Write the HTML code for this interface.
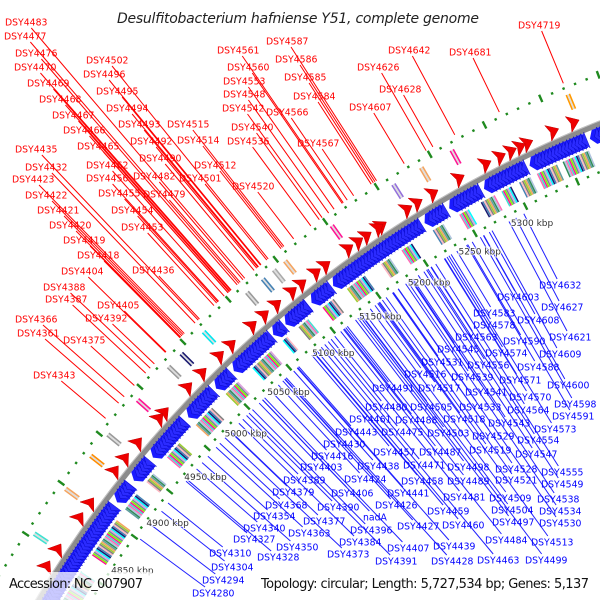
<!DOCTYPE html>
<html><head><meta charset="utf-8"><title>Desulfitobacterium hafniense Y51 genome map</title>
<style>html,body{margin:0;padding:0;background:#fff;width:600px;height:600px;overflow:hidden;}svg{display:block;overflow:hidden;}</style></head>
<body>
<svg id="map" width="600" height="600" viewBox="0 0 600 600" xmlns="http://www.w3.org/2000/svg">
<rect x="0" y="0" width="600" height="600" fill="#fff"/>
<g id="rings"></g>
<g id="leaders"></g>
<g id="labels"></g>
<g id="ticks"></g>
<text x="298" y="23" text-anchor="middle" font-family="DejaVu Sans, Liberation Sans, sans-serif" font-style="italic" font-size="14" fill="#222" textLength="362">Desulfitobacterium hafniense Y51, complete genome</text>
<rect x="0" y="572" width="152" height="28" fill="#fff" fill-opacity="0.75"/>
<text x="9" y="588" font-family="DejaVu Sans, Liberation Sans, sans-serif" font-size="13" fill="#111" textLength="134">Accession: NC_007907</text>
<text x="261" y="588" font-family="DejaVu Sans, Liberation Sans, sans-serif" font-size="13" fill="#111" textLength="328">Topology: circular; Length: 5,727,534 bp; Genes: 5,137</text>
</svg>
<script>
// ---- data (kbp positions) ----
const genomeKbp = 5727.534;
const tickKbp = [4850, 4900, 4950, 5000, 5050, 5100, 5150, 5200, 5250, 5300];
const minusBlockStart = [4780, 4888, 4910, 4934, 4977, 5009, 5029, 5072, 5085, 5112, 5134, 5223, 5246, 5278, 5319, 5372];
const minusBlockEnd   = [4884, 4906, 4930, 4973, 5005, 5026, 5069, 5082, 5109, 5131, 5220, 5242, 5274, 5315, 5368, 5460];
const plusGeneKbp = [5364.8, 5347.3, 5325.0, 5318.6, 5310.7, 5301.1, 5288.4, 5264.5, 5240.7, 5226.3, 5216.8, 5192.9, 5189.7, 5178.6, 5170.6, 5161.1, 5138.8, 5129.3, 5115.0, 5105.4, 5089.5, 5076.8, 5064.1, 5041.8, 5029.1, 5010.0, 4994.0, 4967.0, 4960.6, 4935.2, 4919.3, 4906.5, 4874.7, 4860.4, 4830.2, 4814.3];
const outerFeatKbp = [5368, 5269, 5242, 5217, 5160, 5115, 5104, 5093, 5077, 5032, 5008, 4994, 4959, 4924, 4903, 4871, 4829];
const outerFeatColor = ['#ff9900', '#ff1493', '#f4a460', '#9370db', '#ff1493', '#f4a460', '#aaaaaa', '#4682b4', '#999999', '#00e5ee', '#191970', '#999999', '#ff1493', '#999999', '#ff8c00', '#f4a460', '#40e0d0'];
const innerClusterStart = [4790, 4842, 4888, 4916, 4942, 4977, 5012, 5042, 5075, 5092, 5117, 5142, 5176, 5196, 5226, 5251, 5271, 5290, 5306, 5322, 5345, 5385];
const innerClusterEnd   = [4826, 4876, 4903, 4924, 4957, 4996, 5026, 5062, 5080, 5102, 5128, 5160, 5184, 5206, 5236, 5259, 5283, 5298, 5316, 5340, 5368, 5420];
const palette = ['#00ffff', '#5f9ea0', '#778899', '#9acd32', '#ff1493', '#ffb6c1', '#ff69b4', '#191970', '#2e8b57', '#dda0dd', '#f4a460', '#7cfc00', '#808080', '#40e0d0', '#4682b4', '#b0c4de'];

const redNames = ['DSY4483','DSY4477','DSY4476','DSY4470','DSY4469','DSY4468','DSY4467','DSY4466','DSY4465','DSY4435','DSY4432','DSY4423','DSY4422','DSY4421','DSY4420','DSY4419','DSY4418','DSY4404','DSY4388','DSY4387','DSY4366','DSY4361','DSY4343','DSY4502','DSY4496','DSY4495','DSY4494','DSY4493','DSY4492','DSY4490','DSY4462','DSY4456','DSY4455','DSY4454','DSY4453','DSY4436','DSY4405','DSY4392','DSY4375','DSY4482','DSY4479','DSY4515','DSY4514','DSY4512','DSY4501','DSY4520','DSY4561','DSY4560','DSY4553','DSY4548','DSY4542','DSY4540','DSY4536','DSY4587','DSY4586','DSY4585','DSY4584','DSY4566','DSY4567','DSY4607','DSY4626','DSY4642','DSY4628','DSY4681','DSY4719'];
const redX = [5,4,15,14,27,39,52,63,77,15,25,12,25,37,49,63,77,61,43,45,15,17,33,86,83,96,106,118,130,139,86,86,98,111,121,132,97,85,63,133,143,167,177,194,179,232,217,227,223,223,222,231,227,266,275,284,293,266,297,349,357,388,379,449,518];
const redY = [22,36,53,67,83,99,115,130,146,149,167,179,195,210,225,240,255,271,287,299,319,333,375,60,74,91,108,124,141,158,165,178,193,210,227,270,305,318,340,176,194,124,140,165,178,186,50,67,81,94,108,127,141,41,59,77,96,112,143,107,67,50,89,52,25];

const blueNames = ['DSY4632','DSY4603','DSY4627','DSY4583','DSY4608','DSY4578','DSY4563','DSY4590','DSY4621','DSY4545','DSY4574','DSY4609','DSY4531','DSY4556','DSY4588','DSY4516','DSY4539','DSY4571','DSY4600','DSY4491','DSY4517','DSY4541','DSY4570','DSY4598','DSY4480','DSY4505','DSY4533','DSY4564','DSY4591','DSY4461','DSY4488','DSY4518','DSY4543','DSY4573','DSY4443','DSY4475','DSY4503','DSY4529','DSY4554','DSY4430','DSY4519','DSY4547','DSY4416','DSY4457','DSY4487','DSY4403','DSY4438','DSY4471','DSY4498','DSY4528','DSY4555','DSY4521','DSY4549','DSY4424','DSY4458','DSY4489','DSY4406','DSY4441','DSY4481','DSY4509','DSY4538','DSY4390','DSY4426','DSY4459','DSY4504','DSY4534','nadA','DSY4377','DSY4427','DSY4460','DSY4497','DSY4530','DSY4396','DSY4384','DSY4407','DSY4439','DSY4484','DSY4513','DSY4373','DSY4391','DSY4428','DSY4463','DSY4499','DSY4363','DSY4350','DSY4389','DSY4379','DSY4368','DSY4354','DSY4340','DSY4327','DSY4328','DSY4310','DSY4304','DSY4294','DSY4280'];
const blueX = [539,497,541,473,517,473,455,503,549,437,485,539,421,467,517,404,451,499,547,372,418,465,509,554,365,410,459,507,552,349,395,443,488,534,335,381,427,472,517,323,469,515,311,373,419,300,357,403,447,495,541,495,541,344,401,447,331,387,443,489,537,317,375,427,491,539,363,303,397,442,492,539,350,339,387,433,485,531,327,375,431,477,525,288,276,283,272,265,253,243,233,257,209,211,202,192];
const blueY = [285,297,307,313,320,325,337,341,337,349,353,354,362,365,367,374,377,380,385,388,388,392,397,404,407,407,407,410,416,419,420,419,423,429,432,432,433,436,440,444,450,454,456,452,452,467,466,465,467,469,472,480,484,479,481,481,493,493,497,498,499,507,505,511,510,511,517,521,526,525,522,523,530,542,548,546,540,542,554,561,561,560,560,533,547,480,492,505,516,528,539,557,553,567,580,593];

// ---- geometry ----
const SVGNS = 'http://www.w3.org/2000/svg';
const CX = 1022, CY = 1190, R0 = 1147;
function ang(k) { return k / genomeKbp * 2 * Math.PI; }
function pt(k, r) { const a = ang(k); return [CX + r * Math.sin(a), CY - r * Math.cos(a)]; }
function mk(tag, attrs, parent) { const e = document.createElementNS(SVGNS, tag); for (const k in attrs) e.setAttribute(k, attrs[k]); parent.appendChild(e); return e; }
function poly(points) { return points.map(p => p[0].toFixed(2) + ',' + p[1].toFixed(2)).join(' '); }
function visible(k) { const p = pt(k, R0); return p[0] > -40 && p[0] < 640 && p[1] > -40 && p[1] < 640; }

const rings = document.getElementById('rings');

// backbone
{
  const a = pt(4740, R0), b = pt(5480, R0);
  const e = mk('path', { d: `M${a[0]},${a[1]} A${R0},${R0} 0 0 1 ${b[0]},${b[1]}`, fill: 'none', stroke: '#8c8c8c', 'stroke-width': 6 }, rings);
  
  
  const a2 = pt(4740, R0 + 2.5), b2 = pt(5480, R0 + 2.5);
  const e2 = mk('path', { d: `M${a2[0]},${a2[1]} A${R0+2.5},${R0+2.5} 0 0 1 ${b2[0]},${b2[1]}`, fill: 'none', stroke: '#c4c4c4', 'stroke-width': 1 }, rings);
  
  
}

// green dot rings (inner and outer)
function dotRing(r, name) {
  const g = mk('g', {}, rings);
  
  
  let i = 0;
  for (let k = 4760; k < 5480; k += 9.5, i++) {
    if (!visible(k)) continue;
    const long = (i % 5 === 2);
    const p1 = pt(k, r - (long ? 4 : 1.2)), p2 = pt(k, r + (long ? 4 : 1.2));
    mk('line', { x1: p1[0], y1: p1[1], x2: p2[0], y2: p2[1], stroke: '#1f8a1f', 'stroke-width': 2.4 }, g);
  }
}
dotRing(1102, 'inner-dot-ring');
dotRing(1193, 'outer-dot-ring');

// inner coloured feature bars
{
  const g = mk('g', {}, rings);
  
  
  let ci = 0;
  for (let i = 0; i < innerClusterStart.length; i++) {
    for (let k = innerClusterStart[i]; k <= innerClusterEnd[i]; k += 1.3, ci++) {
      if (!visible(k)) continue;
      const p1 = pt(k, 1109), p2 = pt(k, 1126);
      mk('line', { x1: p1[0], y1: p1[1], x2: p2[0], y2: p2[1], stroke: palette[(ci * 7) % palette.length], 'stroke-width': 1.5 }, g);
    }
  }
}

// outer coloured feature bars
{
  const g = mk('g', {}, rings);
  
  
  for (let i = 0; i < outerFeatKbp.length; i++) {
    for (let j = 0; j < 3; j++) {
      const k = outerFeatKbp[i] + j * 1.3;
      const p1 = pt(k, 1170), p2 = pt(k, 1186);
      const e = mk('line', { x1: p1[0], y1: p1[1], x2: p2[0], y2: p2[1], stroke: j === 1 ? '#dddddd' : outerFeatColor[i], 'stroke-width': 1.6 }, g);
      
      
    }
  }
}

// minus strand blue gene blocks
{
  const g = mk('g', {}, rings);
  
  
  for (let i = 0; i < minusBlockStart.length; i++) {
    const s = minusBlockStart[i], e = minusBlockEnd[i];
    const pts = [];
    for (let k = s + 4; k <= e; k += 1) pts.push(pt(k, 1144));
    pts.push(pt(e, 1144)); pts.push(pt(e, 1129));
    for (let k = e; k >= s + 4; k -= 1) pts.push(pt(k, 1129));
    pts.push(pt(s, 1136.5));
    const b = mk('polygon', { points: poly(pts), fill: '#1a1aff' }, g);
    
    
    for (let k = s + 4; k < e - 2; k += 3) {
      const t = mk('polygon', { points: poly([pt(k, 1136.5), pt(k + 4.5, 1128), pt(k + 4.5, 1145)]), fill: '#2b2bff', stroke: '#0000b8', 'stroke-width': 0.4 }, g);
      
      
    }
  }
}

// plus strand red genes
{
  const g = mk('g', {}, rings);
  
  
  for (let i = 0; i < plusGeneKbp.length; i++) {
    const k = plusGeneKbp[i];
    const t = mk('polygon', { points: poly([pt(k + 5, 1158), pt(k - 4, 1149.5), pt(k - 2, 1158), pt(k - 4, 1166.5)]), fill: '#ee0000', stroke: '#c00000', 'stroke-width': 0.5 }, g);
    
    
  }
}

// tick labels
{
  const g = document.getElementById('ticks');
  for (let i = 0; i < tickKbp.length; i++) {
    const p = pt(tickKbp[i], 1084);
    const t = mk('text', { x: p[0], y: p[1] + 3, 'text-anchor': 'middle', 'font-family': 'DejaVu Sans, Liberation Sans, sans-serif', 'font-size': 9, fill: '#333', stroke: '#fff', 'stroke-width': 2, 'stroke-opacity': 0.8, 'paint-order': 'stroke' }, g);
    t.textContent = tickKbp[i] + ' kbp';
    
    
  }
}

// gene labels and leader lines
function labels(names, xs, ys, color, lineColor, targetR, outward) {
  const lg = document.getElementById('leaders'), tg = document.getElementById('labels');
  for (let i = 0; i < names.length; i++) {
    const w = names[i].length * 6.05, h = 10;
    const cx = xs[i] + w / 2, cy = ys[i];
    let dx = CX - cx, dy = CY - cy;
    const d0 = Math.hypot(dx, dy);
    dx /= d0; dy /= d0;
    let len;
    if (outward) { dx = -dx; dy = -dy; len = targetR - d0; } else { len = d0 - targetR; }
    const tb = Math.min((w / 2 + 1) / Math.abs(dx || 1e-6), (h / 2 + 1) / Math.abs(dy || 1e-6));
    if (len > tb) {
      const l = mk('line', { x1: cx + dx * tb, y1: cy + dy * tb, x2: cx + dx * len, y2: cy + dy * len, stroke: lineColor, 'stroke-width': 1 }, lg);
      
      
    }
    const t = mk('text', { x: xs[i], y: ys[i] + 3.4, 'font-family': 'DejaVu Sans, Liberation Sans, sans-serif', 'font-size': 9.3, fill: color }, tg);
    t.textContent = names[i];
    
    
  }
}
labels(redNames, redX, redY, '#ff0000', '#ff0000', 1198, false);
labels(blueNames, blueX, blueY, '#0000ff', '#2020ff', 1096, true);
</script>
</body></html>
